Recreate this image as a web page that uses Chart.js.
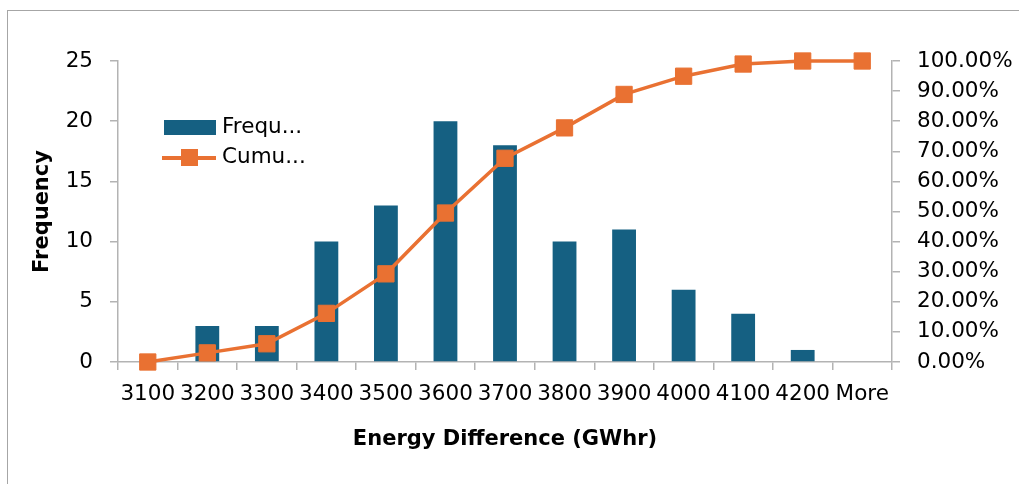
<!DOCTYPE html>
<html>
<head>
<meta charset="utf-8">
<script src="https://cdn.jsdelivr.net/npm/chart.js@4.4.1/dist/chart.umd.min.js"></script>
<style>
  html, body { margin: 0; padding: 0; background: #fff; }
  #wrap { position: relative; width: 1019px; height: 484px; overflow: hidden; font-family: "DejaVu Sans", sans-serif; }
  #frame { position: absolute; left: 7px; top: 10px; width: 1100px; height: 600px; border: 1px solid #a6a6a6; }
  #myChart { position: absolute; left: 0; top: 0; }
  .legend { position: absolute; left: 162px; top: 112px; font-size: 21.5px; color: #000; }
  .legend .row { position: relative; height: 30px; }
  .legend .swatch { position: absolute; left: 2px; top: 8px; width: 52px; height: 15px; background: #156082; }
  .legend .line { position: absolute; left: 0; top: 14px; width: 54px; height: 3.5px; background: #E97132; }
  .legend .sq { position: absolute; left: 19px; top: 7px; width: 17px; height: 17px; background: #E97132; }
  .legend .txt { position: absolute; left: 60px; top: 1px; }
</style>
</head>
<body>
<div id="wrap">
  <div id="frame"></div>
  <canvas id="myChart" width="1019" height="484"></canvas>
  <div class="legend">
    <div class="row"><div class="swatch"></div><span class="txt">Frequ...</span></div>
    <div class="row"><div class="line"></div><div class="sq"></div><span class="txt">Cumu...</span></div>
  </div>
</div>
<script>
// bins
const bins = ['3100', '3200', '3300', '3400', '3500', '3600', '3700', '3800', '3900', '4000', '4100', '4200', 'More'];
const frequency = [0, 3, 3, 10, 13, 20, 18, 10, 11, 6, 4, 1, 0];
const cumulativePct = [0, 3.03, 6.06, 16.16, 29.29, 49.49, 67.68, 77.78, 88.89, 94.95, 98.99, 100, 100];

const blue = '#156082';
const orange = '#E97132';
const axisGrey = '#b3b3b3';
const tickFont = { family: 'DejaVu Sans', size: 21.5 };
const titleFont = { family: 'DejaVu Sans', size: 21, weight: 'bold' };

const ctx = document.getElementById('myChart').getContext('2d');
new Chart(ctx, {
  type: 'bar',
  data: {
    labels: bins,
    datasets: [
      {
        type: 'line',
        label: 'Cumulative %',
        data: cumulativePct.map(v => v / 100),
        yAxisID: 'y2',
        clip: false,
        borderColor: orange,
        backgroundColor: orange,
        borderWidth: 3.5,
        pointStyle: 'rect',
        pointRadius: 11.5,
        pointBorderWidth: 1,
        pointBorderColor: orange,
        pointBackgroundColor: orange,
        tension: 0,
        order: 0
      },
      {
        label: 'Frequency',
        data: frequency,
        yAxisID: 'y',
        backgroundColor: blue,
        borderWidth: 0,
        barPercentage: 0.4,
        categoryPercentage: 1,
        order: 1
      }
    ]
  },
  options: {
    responsive: false,
    animation: false,
    layout: { padding: { top: 61, left: 0, right: 0, bottom: 0 } },
    plugins: { legend: { display: false }, tooltip: { enabled: false } },
    scales: {
      x: {
        offset: true,
        afterFit: s => { s.height = 122; },
        border: { display: true, color: axisGrey, width: 1.5 },
        grid: { display: true, offset: true, drawOnChartArea: false, drawTicks: true, tickLength: 8, color: axisGrey, lineWidth: 1.5 },
        ticks: { color: '#000', font: tickFont, autoSkip: false, maxRotation: 0, minRotation: 0, padding: 12 },
        title: {
          display: true,
          text: 'Energy Difference (GWhr)',
          color: '#000',
          font: titleFont,
          padding: { top: 0, bottom: 32 }
        }
      },
      y: {
        position: 'left',
        min: 0,
        max: 25,
        afterFit: s => { s.width = 118; },
        border: { display: true, color: axisGrey, width: 1.5 },
        grid: { display: true, drawOnChartArea: false, drawTicks: true, tickLength: 8, color: axisGrey, lineWidth: 1.5 },
        ticks: { stepSize: 5, color: '#000', font: tickFont, padding: 17 },
        title: {
          display: true,
          text: 'Frequency',
          color: '#000',
          font: titleFont,
          padding: { top: 30, bottom: 0 }
        }
      },
      y2: {
        position: 'right',
        min: 0,
        max: 1,
        afterFit: s => { s.width = 127; },
        border: { display: true, color: axisGrey, width: 1.5 },
        grid: { display: true, drawOnChartArea: false, drawTicks: true, tickLength: 8, color: axisGrey, lineWidth: 1.5 },
        ticks: {
          stepSize: 0.1,
          color: '#000',
          font: tickFont,
          padding: 17,
          callback: v => (v * 100).toFixed(2) + '%'
        }
      }
    }
  }
});
</script>
</body>
</html>
